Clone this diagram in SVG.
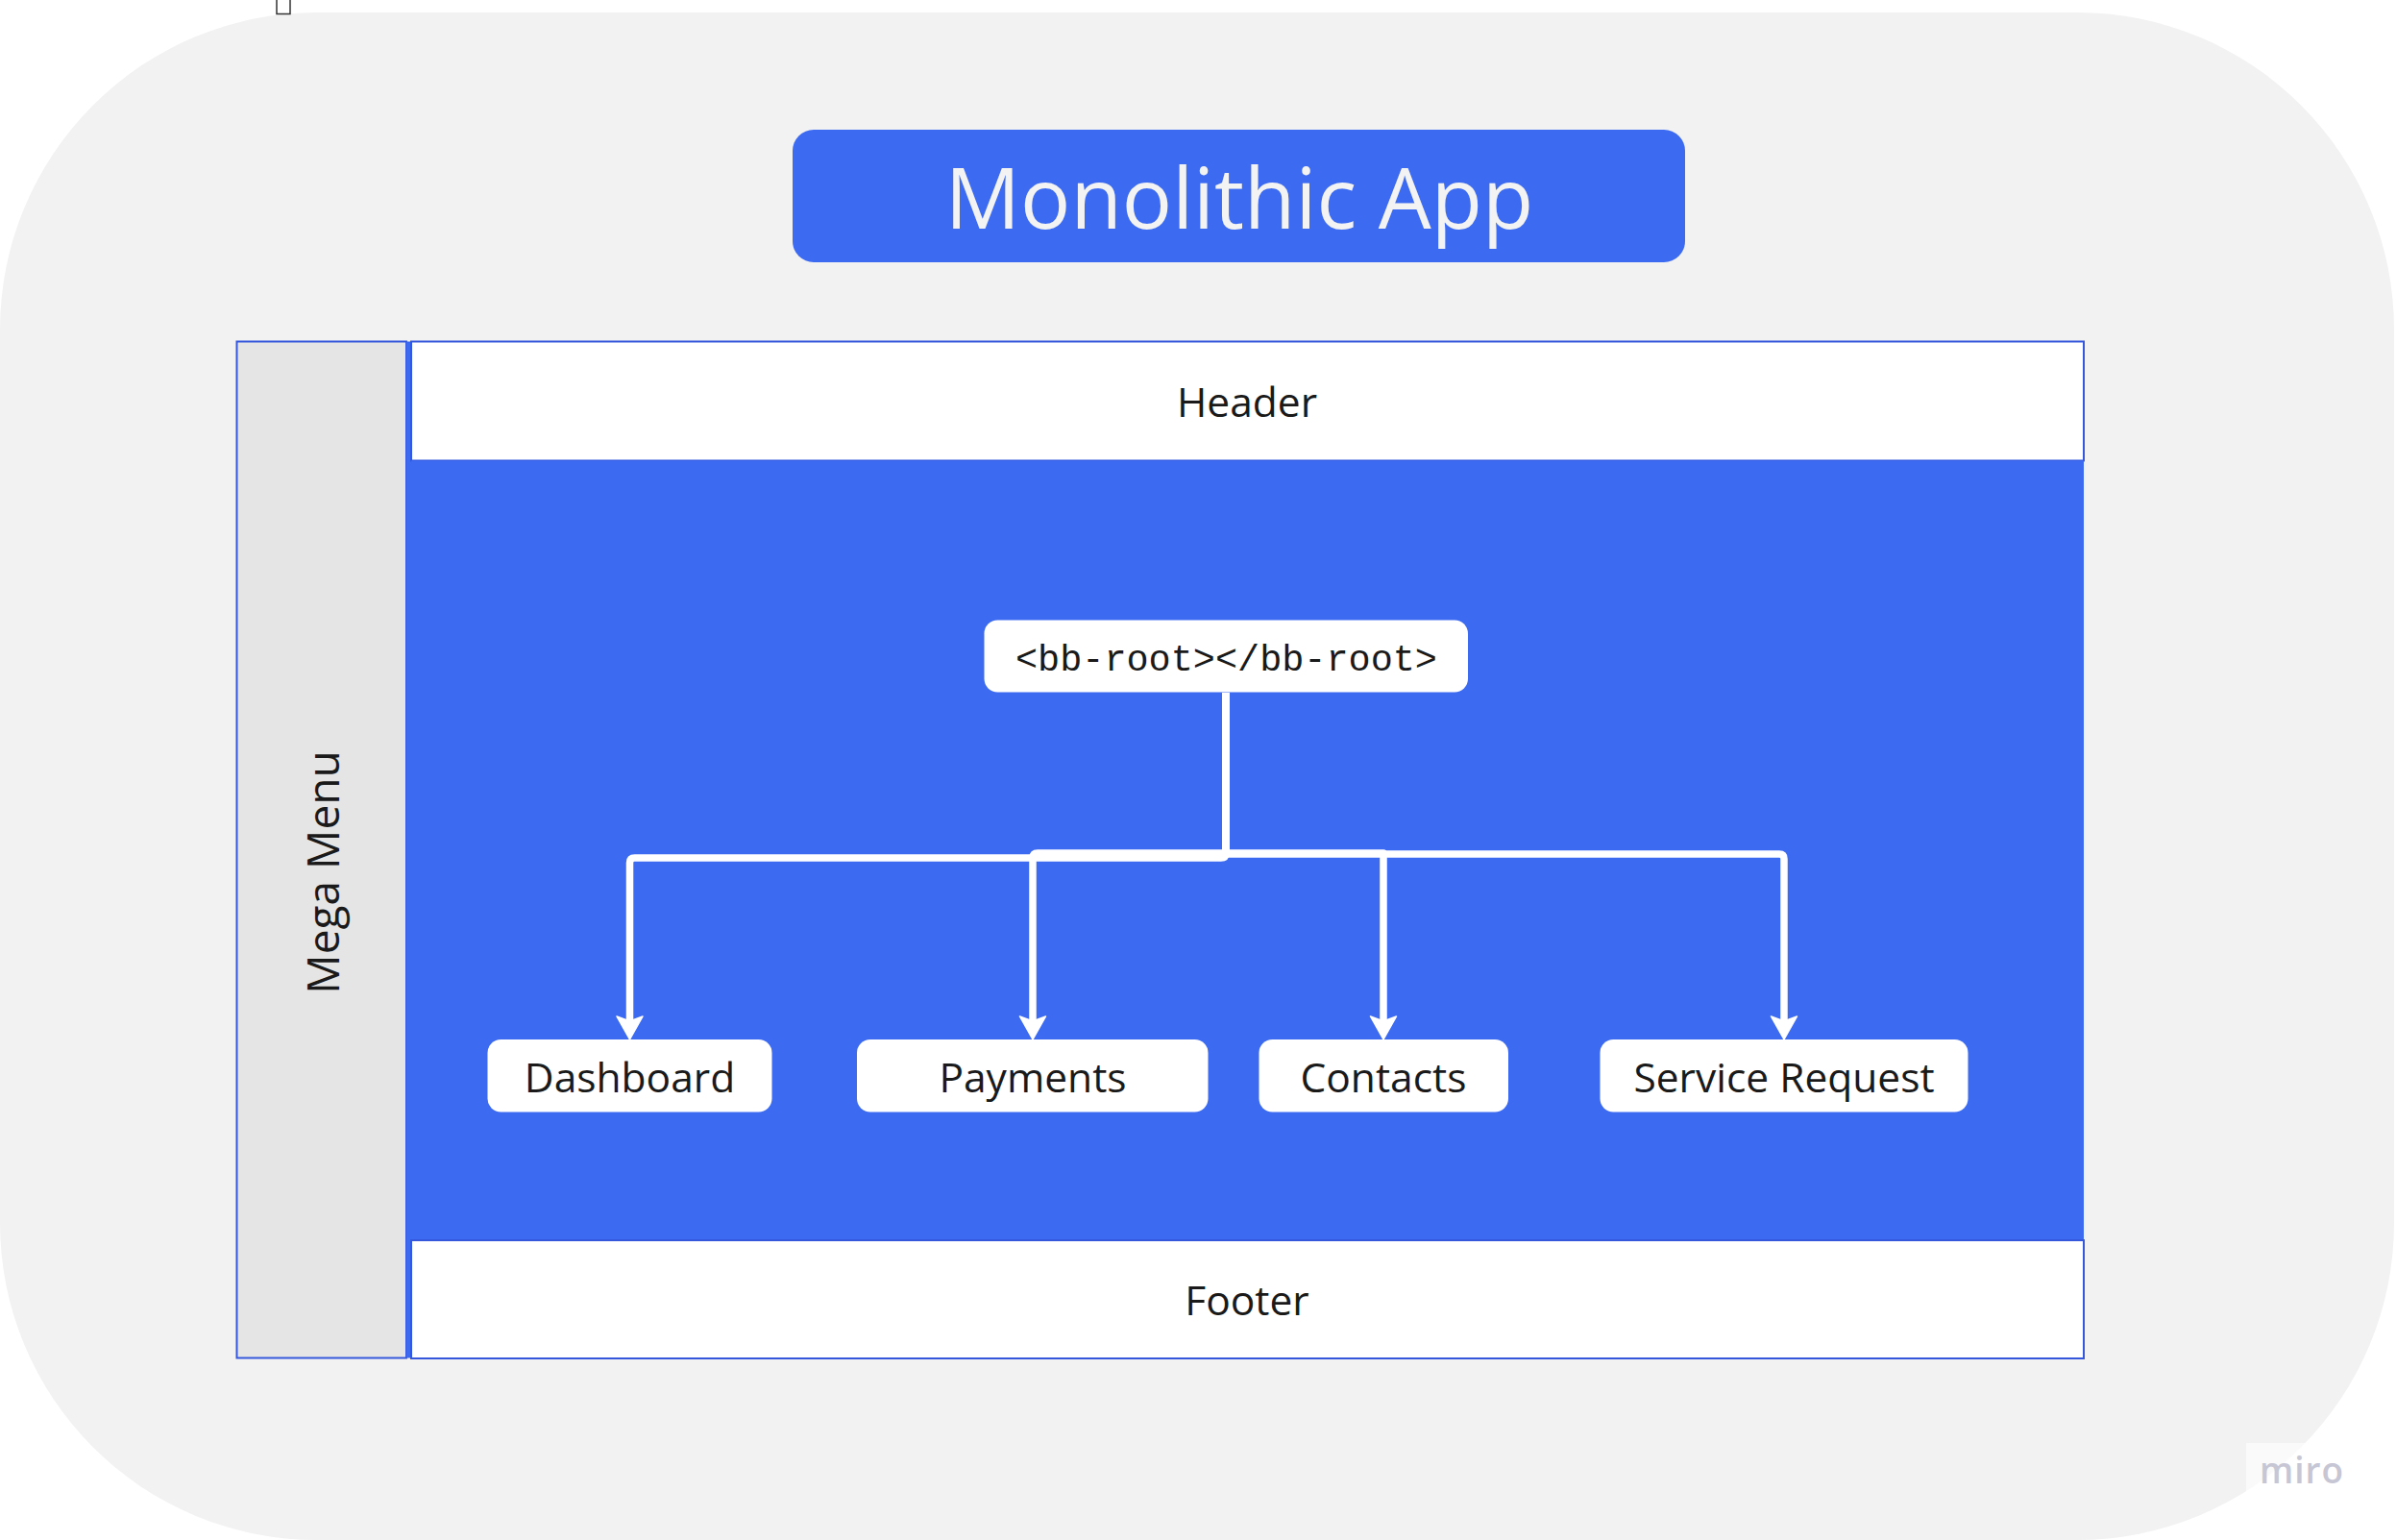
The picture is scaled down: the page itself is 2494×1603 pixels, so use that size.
<svg xmlns="http://www.w3.org/2000/svg" width="2494" height="1603" viewBox="0 0 2494 1603">
  <style>
    .lbl { font-family: "Open Sans", "Noto Sans", "Liberation Sans", sans-serif; font-size: 42.5px; fill: #1a1a1a; text-anchor: middle; }
    .blue { fill: #3c6bf2; }
    .edge { stroke: #3557dc; stroke-width: 2; }
    .child { fill: #ffffff; }
    .conn { fill: none; stroke: #ffffff; stroke-width: 7.5; stroke-linejoin: round; }
  </style>
  <defs>
    <marker id="arrow" viewBox="0 0 26 30" markerWidth="26" markerHeight="30" refX="6" refY="15" orient="auto" markerUnits="userSpaceOnUse">
      <path d="M1,1.5 L25,15 L1,28.5 L6,15 Z" fill="#ffffff" stroke="#ffffff" stroke-width="1.5" stroke-linejoin="round"/>
    </marker>
  </defs>

  <rect width="2494" height="1603" fill="#ffffff"/>
  <rect id="background" x="0" y="13" width="2492" height="1590" rx="330" ry="330" fill="#f2f2f2"/>
  <rect x="288" y="-1" width="14" height="15.5" fill="#ffffff" stroke="#333333" stroke-width="1.5"/>

  <g id="title">
    <rect x="825" y="135" width="929" height="138" rx="22" ry="22" class="blue"/>
    <text x="1290" y="238" font-family="'Open Sans', 'Noto Sans', 'Liberation Sans', sans-serif" font-size="87" fill="#f3f3f3" text-anchor="middle">Monolithic App</text>
  </g>

  <g id="mega-menu">
    <rect x="246.5" y="355.5" width="176.5" height="1058" fill="#e5e5e5" class="edge"/>
    <text class="lbl" transform="translate(353,908) rotate(-90)" x="0" y="0" style="font-size:46px">Mega Menu</text>
  </g>

  <g id="divider">
    <rect x="423" y="355.5" width="5" height="1058" class="blue"/>
  </g>

  <g id="header">
    <rect x="428" y="355.5" width="1741" height="124" fill="#ffffff" class="edge"/>
    <text class="lbl" x="1298" y="434">Header</text>
  </g>

  <g id="content">
    <rect x="428" y="479.5" width="1741" height="811.5" class="blue"/>
  </g>

  <g id="footer">
    <rect x="428" y="1291" width="1741" height="123" fill="#ffffff" class="edge"/>
    <text class="lbl" x="1298" y="1369">Footer</text>
  </g>

  <g id="connectors">
    <path class="conn" d="M1276,721 V888 Q1276,893 1271,893 H660.5 Q655.5,893 655.5,898 V1063" marker-end="url(#arrow)"/>
    <path class="conn" d="M1276,721 V888 H1080 Q1075,888 1075,893 V1063" marker-end="url(#arrow)"/>
    <path class="conn" d="M1276,721 V888 H1440 V1063" marker-end="url(#arrow)"/>
    <path class="conn" d="M1276,721 V889 H1852 Q1857,889 1857,894 V1063" marker-end="url(#arrow)"/>
  </g>

  <g id="bb-root">
    <rect x="1024.5" y="645.5" width="503.5" height="75" rx="14" ry="14" fill="#ffffff"/>
    <text x="1276.5" y="698" font-family="'Liberation Mono', 'DejaVu Sans Mono', monospace" font-size="38.5" fill="#1a1a1a" text-anchor="middle">&lt;bb-root&gt;&lt;/bb-root&gt;</text>
  </g>

  <g id="dashboard">
    <rect x="507.5" y="1082" width="296" height="75.5" rx="14" ry="14" class="child"/>
    <text class="lbl" x="655.5" y="1137">Dashboard</text>
  </g>
  <g id="payments">
    <rect x="892" y="1082" width="365.5" height="75.5" rx="14" ry="14" class="child"/>
    <text class="lbl" x="1075" y="1137">Payments</text>
  </g>
  <g id="contacts">
    <rect x="1310.5" y="1082" width="259.5" height="75.5" rx="14" ry="14" class="child"/>
    <text class="lbl" x="1440" y="1137">Contacts</text>
  </g>
  <g id="service-request">
    <rect x="1665.5" y="1082" width="383" height="75.5" rx="14" ry="14" class="child"/>
    <text class="lbl" x="1857" y="1137">Service Request</text>
  </g>

  <g id="watermark">
    <rect x="2338" y="1502" width="156" height="101" fill="#ffffff" opacity="0.6"/>
    <text x="2396" y="1544" font-family="'Open Sans', 'Noto Sans', sans-serif" font-size="37" font-weight="600" fill="#c6c6d4" text-anchor="middle" letter-spacing="1">miro</text>
  </g>
</svg>
